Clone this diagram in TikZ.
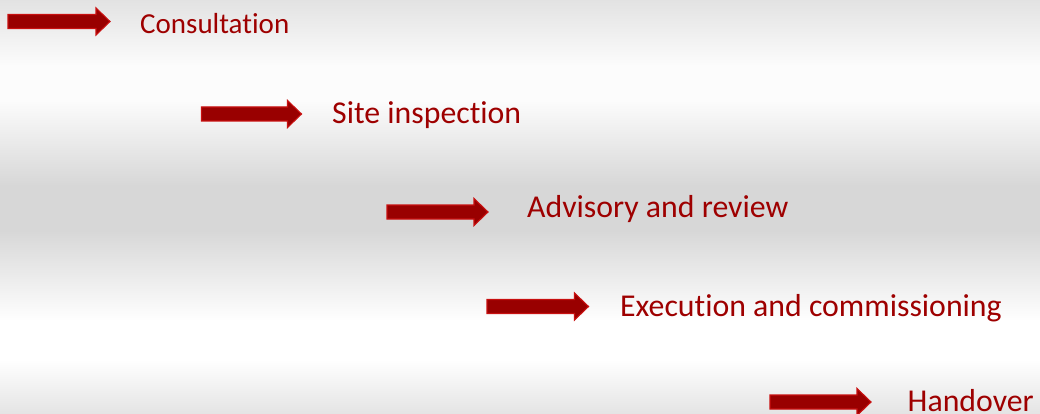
\documentclass[tikz,border=0pt]{standalone}
\usepackage{fontspec}
\setmainfont{Carlito}[Ligatures=NoCommon,RawFeature={-liga}]
\definecolor{txtred}{HTML}{9E0000}
\definecolor{arrfill}{HTML}{990000}
\definecolor{arredge}{HTML}{C81010}
\definecolor{gA}{HTML}{E2E2E2}
\definecolor{gB}{HTML}{FCFCFC}
\definecolor{gC}{HTML}{D7D7D7}
\definecolor{gD}{HTML}{FFFFFF}
\definecolor{gE}{HTML}{E3E3E3}
\tikzset{
  steplabel/.style={anchor=base west, inner sep=0pt, text=txtred, font=\fontsize{31.8}{36}\selectfont},
  blockarrow/.style={fill=arrfill, draw=arredge, line width=1.1pt, line join=miter},
}
\newcommand\myarrow[3]{% left x, center y, tip x
  \path[blockarrow] (#1,#2-7) -- ({#3-14},#2-7) -- ({#3-14},#2-13.5) -- (#3,#2) -- ({#3-14},#2+13.5) -- ({#3-14},#2+7) -- (#1,#2+7) -- cycle;
}
\begin{document}
\begin{tikzpicture}[x=1pt,y=-1pt]
\useasboundingbox (0,0) rectangle (1040,414);
% background bands
\shade[top color=gA, bottom color=gB] (0,-1) rectangle (1040,66);
\fill[gB] (0,65) rectangle (1040,101);
\shade[top color=gB, bottom color=gC] (0,100) rectangle (1040,186);
\fill[gC] (0,185) rectangle (1040,231);
\shade[top color=gC, bottom color=gD] (0,230) rectangle (1040,321);
\fill[gD] (0,320) rectangle (1040,361);
\shade[top color=gD, bottom color=gE] (0,360) rectangle (1040,415);
% arrows
\myarrow{8}{21.5}{110}
\myarrow{201.5}{114}{301.5}
\myarrow{387}{212}{488}
\myarrow{487}{306.5}{588.5}
\myarrow{770}{402}{871}
% labels
\node[steplabel, font=\fontsize{29}{34}\selectfont] (s1) at (140,34) {Consultation};
\node[steplabel] (s2) at (332,123.5) {Site inspection};
\node[steplabel] (s3) at (527,217) {Advisory and review};
\node[steplabel] (s4) at (620,316) {Execution and commissioning};
\node[steplabel] (s5) at (907.5,411.5) {Handover};
\end{tikzpicture}
\end{document}
